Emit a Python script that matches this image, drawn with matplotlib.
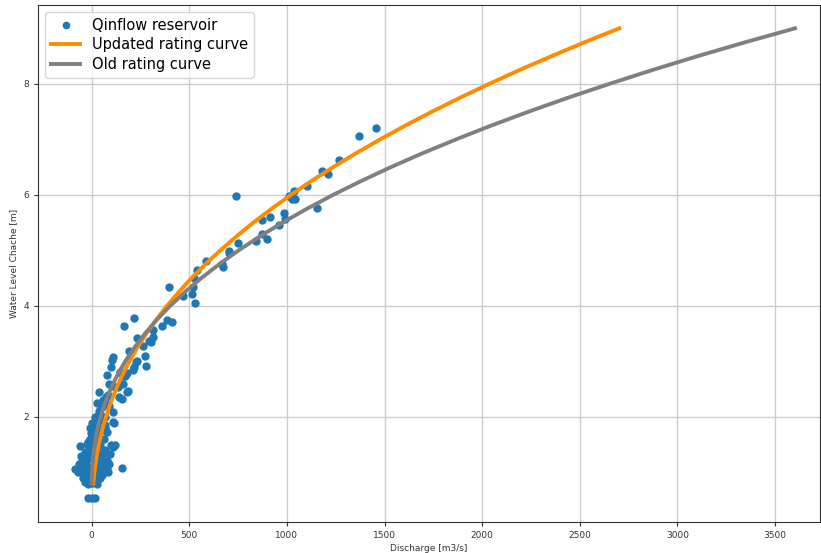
import matplotlib
matplotlib.use("Agg")
import matplotlib.pyplot as plt

# Observed discharge [m3/s] and water level [m]
obs_q = [1454, 1370, 1268, 1210, 1179, 1102, 1036, 1012, 1039, 1025, 1155, 985, 990, 913, 961,
         870, 870, 899, 841, 739, 751, 703, 705, 666, 671, 584, 538, 524, 517, 512, 529, 469,
         397, 410, 384, 358, 316, 312, 295, 264, 217, 165, 233, 193, 233, 273, 278, 102, 111,
         145, 182, 217, 159, 136, 182, 39, 107, 73, 141, 302, 227, 213, 171, 162, 111, 187,
         154, 77, 51, 43, 111, 111, 17, 8, -9, 68,
         0, 8, 68, 114, 77, -60, -26, -34, 119, 111, 94, 60, 77, 43, 154, -85, -60, -69, -43,
         85, 77, 51, -34, -17, 26, 34, 0, -17, 17,
         -50, -40, -20, -10, 0, 10, 20, 30, 40, 50, -30, -55, -65, 20, 30, -10, 0, -20, 10, 60,
         55, -45, 40, 70, 65, 45, 15, 25, -5, 5, -25, 35, 80, -15, -30, 0, 15, -5, 25, 50, 90,
         100, -40, 5, 35, -20, 55, 35, 25, 60, 85, 90, 80, 100, 70, 90, 20, 40]
obs_h = [7.21, 7.06, 6.63, 6.38, 6.42, 6.15, 6.06, 5.98, 5.92, 5.93, 5.77, 5.68, 5.57, 5.60, 5.46,
         5.55, 5.30, 5.21, 5.16, 5.97, 5.13, 4.98, 4.95, 4.76, 4.70, 4.80, 4.64, 4.50, 4.34, 4.22,
         4.05, 4.17, 4.34, 3.70, 3.75, 3.63, 3.57, 3.43, 3.37, 3.27, 3.78, 3.63, 3.42, 3.19, 3.01,
         3.09, 2.92, 3.03, 3.07, 2.80, 2.79, 2.89, 2.74, 2.53, 2.44, 2.44, 2.55, 2.35, 2.35, 3.34,
         2.98, 2.85, 2.74, 2.59, 2.56, 2.46, 2.32, 2.23, 2.17, 2.05, 2.08, 1.90, 1.99, 1.87, 1.80,
         1.80,
         1.88, 1.77, 1.86, 1.88, 1.72, 1.48, 1.51, 1.36, 1.50, 1.45, 1.33, 1.33, 1.21, 1.21, 1.07,
         1.06, 1.12, 1.00, 0.97, 1.00, 1.06, 0.97, 0.82, 0.79, 0.79, 0.88, 0.53, 0.53, 0.53,
         1.20, 1.30, 1.10, 0.90, 1.00, 1.20, 1.40, 1.10, 0.90, 1.30, 1.20, 1.30, 1.15, 1.60, 1.70,
         1.60, 1.45, 1.35, 0.85, 1.10, 0.95, 0.90, 1.50, 1.40, 1.60, 1.75, 1.25, 1.00, 1.25, 1.55,
         0.85, 1.35, 1.20, 1.45, 1.00, 0.80, 0.95, 1.70, 1.85, 1.60, 1.15, 1.50, 1.10, 1.10, 1.20,
         1.55, 2.00, 2.10, 2.25, 2.30, 2.40, 2.60, 2.75, 2.90, 2.00, 2.20, 2.00, 1.95]

# Rating curves: level [m] and discharge [m3/s]
curve_h = [0.8, 0.9, 1.0, 1.1, 1.2, 1.35, 1.5, 1.65, 1.8, 2.0, 2.2, 2.4, 2.6, 2.8, 3.0,
           3.25, 3.5, 3.75, 4.0, 4.25, 4.5, 4.75, 5.0, 5.25, 5.5, 5.75, 6.0, 6.25, 6.5,
           6.75, 7.0, 7.25, 7.5, 7.75, 8.0, 8.25, 8.5, 8.75, 9.0]
new_q = [8.1, 10.8, 13.9, 17.4, 21.5, 28.5, 36.7, 46.1, 56.8, 73.1, 91.9, 113.2, 137.2,
         163.9, 193.4, 234.4, 280.1, 330.5, 385.9, 446.3, 511.8, 582.8, 659.1, 741.1, 828.2,
         921.9, 1021, 1126, 1237, 1354, 1478, 1608, 1744, 1887, 2036, 2192, 2356, 2525, 2702]
old_q = [0.23, 0.79, 1.78, 3.25, 5.26, 9.39, 15.0, 22.1, 30.9, 45.4, 63.3, 84.7, 109.7,
         138.8, 171.8, 219.0, 272.9, 333.9, 402.3, 478.1, 561.8, 653.3, 753, 861.0, 977.7,
         1103, 1237, 1381, 1533, 1695, 1867, 2048, 2239, 2440, 2652, 2873, 3105, 3348, 3602]

fig = plt.figure(figsize=(8.21, 5.53), dpi=100)
ax = fig.add_axes([38 / 821, 1 - 521.7 / 553, (820 - 38) / 821, (521.7 - 5) / 553])

ax.plot(obs_q, obs_h, 'o', color='#1f77b4', markersize=5, label='Qinflow reservoir', zorder=2)
ax.plot(new_q, curve_h, '-', color='darkorange', linewidth=2.8, label='Updated rating curve',
        zorder=3, solid_joinstyle='round')
ax.plot(old_q, curve_h, '-', color='gray', linewidth=2.8, label='Old rating curve',
        zorder=3, solid_joinstyle='round')

ax.set_xlim(-275, 3730)
ax.set_ylim(0.11, 9.42)
ax.set_xticks([0, 500, 1000, 1500, 2000, 2500, 3000, 3500])
ax.set_yticks([2, 4, 6, 8])
ax.grid(True, color='#cccccc', linewidth=1)
ax.set_axisbelow(True)
ax.tick_params(labelsize=6.5, colors='#333333', length=3)
for s in ax.spines.values():
    s.set_color('#333333')
ax.set_xlabel('Discharge [m3/s]', fontsize=6.5, color='#333333', labelpad=3)
ax.set_ylabel('Water Level Chache [m]', fontsize=6.5, color='#333333')
ax.legend(loc='upper left', fontsize=10.5, handlelength=2.0, borderpad=0.4,
          labelspacing=0.3, markerscale=0.9)

fig.savefig('out.png', dpi=100)
